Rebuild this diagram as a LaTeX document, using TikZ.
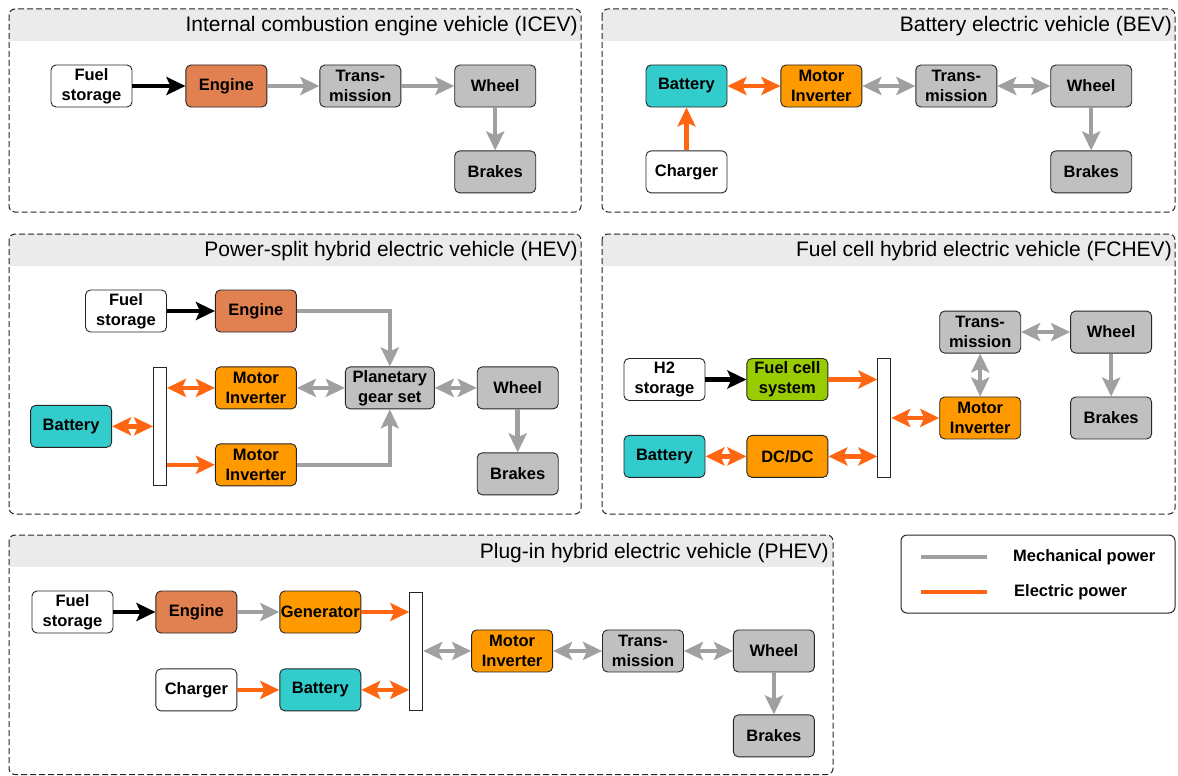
\documentclass[tikz,border=0pt]{standalone}
\usepackage{fontspec}
\setmainfont{Liberation Sans}
\usetikzlibrary{positioning, calc, arrows.meta}

\definecolor{enginecol}{HTML}{E18051}
\definecolor{motorcol}{HTML}{FF9900}
\definecolor{batterycol}{HTML}{33CCCC}
\definecolor{fuelcellcol}{HTML}{99CC00}
\definecolor{partcol}{HTML}{C0C0C0}
\definecolor{mechcol}{HTML}{A0A0A0}
\definecolor{eleccol}{HTML}{FF6611}
\definecolor{bandcol}{HTML}{EBEBEB}

\begin{document}
\begin{tikzpicture}[x=1pt, y=-1pt,
  box/.style={draw=black!85, line width=0.9pt, rounded corners=5pt, minimum width=81pt, minimum height=42pt, inner sep=0pt, align=center, font=\fontsize{16.5}{20}\selectfont\bfseries},
  whitebox/.style={box, fill=white},
  enginebox/.style={box, fill=enginecol},
  motorbox/.style={box, fill=motorcol},
  batterybox/.style={box, fill=batterycol},
  fcbox/.style={box, fill=fuelcellcol},
  partbox/.style={box, fill=partcol},
  busbar/.style={draw=black!85, line width=0.9pt, fill=white, minimum width=13pt, inner sep=0pt},
  paneltitle/.style={anchor=east, inner sep=0pt, font=\fontsize{21}{24}\selectfont},
  panel/.style={draw=black!85, line width=1pt, dash pattern=on 6pt off 3pt, rounded corners=6pt},
  band/.style={fill=bandcol},
  mechline/.style={draw=mechcol, line width=4.5pt},
  elecline/.style={draw=eleccol, line width=4.5pt},
  fuelline/.style={draw=black, line width=4.5pt},
  legendtext/.style={anchor=west, inner sep=0pt, font=\fontsize{16.5}{20}\selectfont\bfseries},
  >={Stealth[length=19pt, width=18pt, inset=4pt]}
]
\useasboundingbox (0,0) rectangle (1178,776);

% ICEV Panel
\begin{scope}
  \clip[rounded corners=6pt] (9,9) rectangle (581,212);
  \fill[band] (9,9) rectangle (581,41);
\end{scope}
\draw[panel] (9,9) rectangle (581,212);
\node[paneltitle] (icev_title) at (578,26) {Internal combustion engine vehicle (ICEV)};

\node[whitebox] (icev_fuel) at (91.5,86) {Fuel\\storage};
\node[enginebox, right=53pt of icev_fuel] (icev_engine) {Engine};
\node[partbox, right=52pt of icev_engine] (icev_trans) {Trans-\\mission};
\node[partbox, right=53pt of icev_trans] (icev_wheel) {Wheel};
\node[partbox, below=43pt of icev_wheel] (icev_brakes) {Brakes};

\draw[fuelline, ->] (icev_fuel) -- (icev_engine);
\draw[mechline, ->] (icev_engine) -- (icev_trans);
\draw[mechline, ->] (icev_trans) -- (icev_wheel);
\draw[mechline, ->] (icev_wheel) -- (icev_brakes);

% BEV Panel
\begin{scope}
  \clip[rounded corners=6pt] (602,9) rectangle (1175,212);
  \fill[band] (602,9) rectangle (1175,41);
\end{scope}
\draw[panel] (602,9) rectangle (1175,212);
\node[paneltitle] (bev_title) at (1172,26) {Battery electric vehicle (BEV)};

\node[batterybox] (bev_bat) at (686.5,86) {Battery};
\node[motorbox, right=53pt of bev_bat] (bev_mi) {Motor\\Inverter};
\node[partbox, right=53pt of bev_mi] (bev_trans) {Trans-\\mission};
\node[partbox, right=53pt of bev_trans] (bev_wheel) {Wheel};
\node[whitebox, below=43pt of bev_bat] (bev_charger) {Charger};
\node[partbox, below=43pt of bev_wheel] (bev_brakes) {Brakes};

\draw[elecline, <->] (bev_bat) -- (bev_mi);
\draw[mechline, <->] (bev_mi) -- (bev_trans);
\draw[mechline, <->] (bev_trans) -- (bev_wheel);
\draw[mechline, ->] (bev_wheel) -- (bev_brakes);
\draw[elecline, ->] (bev_charger) -- (bev_bat);

% HEV Panel
\begin{scope}
  \clip[rounded corners=6pt] (9,234) rectangle (581,514);
  \fill[band] (9,234) rectangle (581,266);
\end{scope}
\draw[panel] (9,234) rectangle (581,514);
\node[paneltitle] (hev_title) at (578,251) {Power-split hybrid electric vehicle (HEV)};

\node[whitebox] (hev_fuel) at (126,311) {Fuel\\storage};
\node[enginebox, right=48pt of hev_fuel] (hev_engine) {Engine};
\node[motorbox, below=34pt of hev_engine] (hev_mi1) {Motor\\Inverter};
\node[motorbox, below=34pt of hev_mi1] (hev_mi2) {Motor\\Inverter};
\node[partbox, minimum width=89pt, right=48pt of hev_mi1] (hev_pgs) {Planetary\\gear set};
\node[partbox, right=42pt of hev_pgs] (hev_wheel) {Wheel};
\node[partbox, below=43pt of hev_wheel] (hev_brakes) {Brakes};
\coordinate (hev_mid) at ($(hev_mi1.west)!0.5!(hev_mi2.west)$);
\node[busbar, minimum height=118pt, left=48pt of hev_mid] (hev_bus) {};
\node[batterybox, left=41pt of hev_bus] (hev_bat) {Battery};

\draw[fuelline, ->] (hev_fuel) -- (hev_engine);
\draw[mechline, ->] (hev_engine.east) -| (hev_pgs.north);
\draw[mechline, ->] (hev_mi2.east) -| (hev_pgs.south);
\draw[mechline, <->] (hev_mi1) -- (hev_pgs);
\draw[mechline, <->] (hev_pgs) -- (hev_wheel);
\draw[mechline, ->] (hev_wheel) -- (hev_brakes);
\draw[elecline, <->] (hev_bus.east |- hev_mi1.west) -- (hev_mi1.west);
\draw[elecline, ->] (hev_bus.east |- hev_mi2.west) -- (hev_mi2.west);
\draw[elecline, <->] (hev_bat.east) -- (hev_bus.west |- hev_bat.east);

% FCHEV Panel
\begin{scope}
  \clip[rounded corners=6pt] (602,234) rectangle (1175,514);
  \fill[band] (602,234) rectangle (1175,266);
\end{scope}
\draw[panel] (602,234) rectangle (1175,514);
\node[paneltitle] (fc_title) at (1172,251) {Fuel cell hybrid electric vehicle (FCHEV)};

\node[whitebox] (fc_h2) at (664.5,379.5) {H2\\storage};
\node[fcbox, right=41pt of fc_h2] (fc_fcs) {Fuel cell\\system};
\node[batterybox, below=34pt of fc_h2] (fc_bat) {Battery};
\node[motorbox, right=41pt of fc_bat] (fc_dcdc) {DC/DC};
\coordinate (fc_mid) at ($(fc_fcs.east)!0.5!(fc_dcdc.east)$);
\node[busbar, minimum height=119pt, right=49pt of fc_mid] (fc_bus) {};
\node[motorbox, right=48pt of fc_bus] (fc_mi) {Motor\\Inverter};
\node[partbox, above=43pt of fc_mi] (fc_trans) {Trans-\\mission};
\node[partbox, right=49pt of fc_trans] (fc_wheel) {Wheel};
\node[partbox, below=43pt of fc_wheel] (fc_brakes) {Brakes};

\draw[fuelline, ->] (fc_h2) -- (fc_fcs);
\draw[elecline, ->] (fc_fcs.east) -- (fc_bus.west |- fc_fcs.east);
\draw[elecline, <->] (fc_bat) -- (fc_dcdc);
\draw[elecline, <->] (fc_dcdc.east) -- (fc_bus.west |- fc_dcdc.east);
\draw[elecline, <->] (fc_bus.east |- fc_mi.west) -- (fc_mi.west);
\draw[mechline, <->] (fc_trans) -- (fc_mi);
\draw[mechline, <->] (fc_trans) -- (fc_wheel);
\draw[mechline, ->] (fc_wheel) -- (fc_brakes);

% PHEV Panel
\begin{scope}
  \clip[rounded corners=6pt] (9,535) rectangle (833,774.5);
  \fill[band] (9,535) rectangle (833,567);
\end{scope}
\draw[panel] (9,535) rectangle (833,774.5);
\node[paneltitle] (ph_title) at (829,553) {Plug-in hybrid electric vehicle (PHEV)};

\node[whitebox] (ph_fuel) at (72.5,612) {Fuel\\storage};
\node[enginebox, right=42pt of ph_fuel] (ph_engine) {Engine};
\node[motorbox, right=42pt of ph_engine] (ph_gen) {Generator};
\node[whitebox, below=35pt of ph_engine] (ph_charger) {Charger};
\node[batterybox, right=42pt of ph_charger] (ph_bat) {Battery};
\coordinate (ph_mid) at ($(ph_gen.east)!0.5!(ph_bat.east)$);
\node[busbar, minimum height=118pt, right=48pt of ph_mid] (ph_bus) {};
\node[motorbox, right=48pt of ph_bus] (ph_mi) {Motor\\Inverter};
\node[partbox, right=49pt of ph_mi] (ph_trans) {Trans-\\mission};
\node[partbox, right=49pt of ph_trans] (ph_wheel) {Wheel};
\node[partbox, below=42pt of ph_wheel] (ph_brakes) {Brakes};

\draw[fuelline, ->] (ph_fuel) -- (ph_engine);
\draw[mechline, ->] (ph_engine) -- (ph_gen);
\draw[elecline, ->] (ph_gen.east) -- (ph_bus.west |- ph_gen.east);
\draw[elecline, ->] (ph_charger) -- (ph_bat);
\draw[elecline, <->] (ph_bat.east) -- (ph_bus.west |- ph_bat.east);
\draw[mechline, <->] (ph_bus.east |- ph_mi.west) -- (ph_mi.west);
\draw[mechline, <->] (ph_mi) -- (ph_trans);
\draw[mechline, <->] (ph_trans) -- (ph_wheel);
\draw[mechline, ->] (ph_wheel) -- (ph_brakes);

% Legend
\draw[draw=black!85, line width=1pt, rounded corners=6pt] (901,535) rectangle (1175,613);
\node[legendtext] (leg_mech) at (1013,557) {Mechanical power};
\node[legendtext] (leg_elec) at (1014,592) {Electric power};
\coordinate (leg_mech_a) at (921,557);
\coordinate (leg_mech_b) at (987,557);
\coordinate (leg_elec_a) at (921,592);
\coordinate (leg_elec_b) at (987,592);
\draw[mechline] (leg_mech_a) -- (leg_mech_b);
\draw[elecline] (leg_elec_a) -- (leg_elec_b);

\end{tikzpicture}
\end{document}
